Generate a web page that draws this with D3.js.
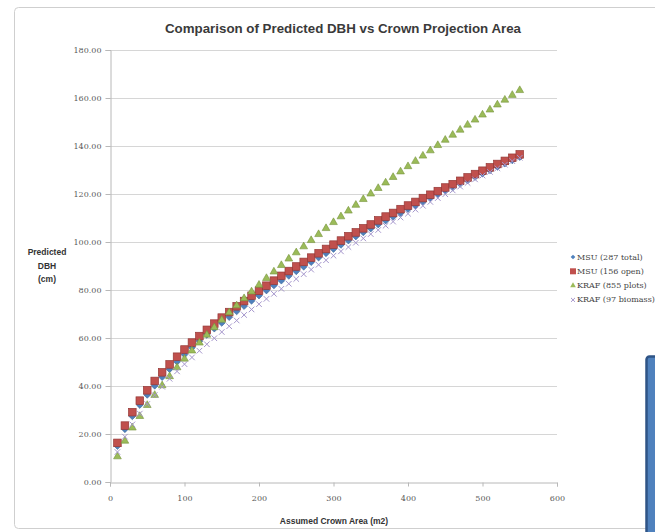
<!DOCTYPE html>
<html>
<head>
<meta charset="utf-8">
<script src="https://cdn.jsdelivr.net/npm/d3@7"></script>
<style>
  html, body { margin: 0; padding: 0; background: #fff; }
  svg { display: block; }
</style>
</head>
<body>
<svg id="chart" width="655" height="532"></svg>
<script>
// crown area (m2), one point every 10 m2
const crownArea = d3.range(10, 551, 10);

const msuTotal = [15.0, 22.0, 27.4, 32.1, 36.3, 40.1, 43.7, 47.0, 50.1, 53.1, 56.0, 58.7, 61.3, 63.9, 66.3, 68.7, 71.1, 73.3, 75.5, 77.7,
  79.8, 81.9, 83.9, 85.9, 87.8, 89.7, 91.6, 93.5, 95.3, 97.1, 98.8, 100.6, 102.3, 104.0, 105.6, 107.3, 108.9, 110.5, 112.1, 113.7,
  115.2, 116.8, 118.3, 119.8, 121.3, 122.7, 124.2, 125.6, 127.1, 128.5, 129.9, 131.3, 132.7, 134.0, 135.4];

const msuOpen = [16.3, 23.5, 29.1, 33.9, 38.2, 42.1, 45.7, 49.0, 52.2, 55.2, 58.1, 60.8, 63.4, 66.0, 68.5, 70.8, 73.2, 75.4, 77.6, 79.7,
  81.8, 83.9, 85.9, 87.9, 89.8, 91.7, 93.5, 95.3, 97.1, 98.9, 100.6, 102.4, 104.0, 105.7, 107.3, 109.0, 110.6, 112.1, 113.7, 115.2,
  116.7, 118.3, 119.7, 121.2, 122.7, 124.1, 125.5, 126.9, 128.3, 129.7, 131.1, 132.5, 133.8, 135.1, 136.5];

const krafPlots = [10.8, 17.3, 22.8, 27.6, 32.2, 36.4, 40.4, 44.2, 47.9, 51.5, 54.9, 58.2, 61.5, 64.6, 67.7, 70.8, 73.7, 76.7, 79.5, 82.3,
  85.1, 87.8, 90.5, 93.2, 95.8, 98.3, 100.9, 103.4, 105.9, 108.4, 110.8, 113.2, 115.6, 118.0, 120.3, 122.6, 124.9, 127.2, 129.5, 131.7,
  133.9, 136.1, 138.3, 140.5, 142.7, 144.8, 146.9, 149.0, 151.1, 153.2, 155.3, 157.4, 159.4, 161.4, 163.4];

const krafBiomass = [12.5, 18.9, 24.0, 28.5, 32.5, 36.2, 39.7, 43.0, 46.1, 49.1, 51.9, 54.7, 57.4, 59.9, 62.5, 64.9, 67.3, 69.6, 71.9, 74.1,
  76.3, 78.4, 80.5, 82.6, 84.6, 86.6, 88.5, 90.5, 92.4, 94.3, 96.1, 97.9, 99.7, 101.5, 103.3, 105.0, 106.8, 108.5, 110.2, 111.8,
  113.5, 115.1, 116.7, 118.3, 119.9, 121.5, 123.1, 124.6, 126.1, 127.7, 129.2, 130.7, 132.2, 133.7, 135.1];

const seriesNames = ["MSU (287 total)", "MSU (156 open)", "KRAF (855 plots)", "KRAF (97 biomass)"];
const xTicks = [0, 100, 200, 300, 400, 500, 600];
const yTicks = [0, 20, 40, 60, 80, 100, 120, 140, 160, 180];

const svg = d3.select("#chart");

// chart area frame
svg.append("rect")
  .attr("x", 14.5).attr("y", 7.5)
  .attr("width", 700).attr("height", 521)
  .attr("rx", 4)
  .attr("fill", "#fff")
  .attr("stroke", "#cfcfcf");

const x = d3.scaleLinear().domain([0, 600]).range([110, 557]);
const y = d3.scaleLinear().domain([0, 180]).range([482, 50]);

// gridlines
svg.append("g")
  .selectAll("line")
  .data(yTicks.slice(1))
  .join("line")
  .attr("x1", x(0)).attr("x2", x(600))
  .attr("y1", d => Math.round(y(d)) + 0.5).attr("y2", d => Math.round(y(d)) + 0.5)
  .attr("stroke", "#d6d6d6");

// axes
const yAxis = svg.append("g")
  .attr("transform", `translate(${x(0) + 0.5},0)`)
  .call(d3.axisLeft(y).tickValues(yTicks).tickFormat(d3.format(".2f")).tickSize(5).tickPadding(4));
const xAxis = svg.append("g")
  .attr("transform", `translate(0,${y(0) + 0.5})`)
  .call(d3.axisBottom(x).tickValues(xTicks).tickSize(4).tickPadding(9));

[xAxis, yAxis].forEach(a => {
  a.select(".domain").attr("stroke", "#b8b8b8");
  a.selectAll(".tick line").attr("stroke", "#b8b8b8");
  a.selectAll("text")
    .attr("fill", "#5a5a5a")
    .style("font-family", "'DejaVu Serif', serif")
    .style("font-size", "8px");
});

// markers
const marks = svg.append("g");

marks.selectAll(".msu-total")
  .data(crownArea.map((a, i) => [a, msuTotal[i]]))
  .join("path")
  .attr("class", "msu-total")
  .attr("d", d3.symbol(d3.symbolDiamond2, 30))
  .attr("transform", d => `translate(${x(d[0])},${y(d[1])})`)
  .attr("fill", "#4f81bd")
  .attr("stroke", "#3b6495")
  .attr("stroke-width", 0.6);

marks.selectAll(".msu-open")
  .data(crownArea.map((a, i) => [a, msuOpen[i]]))
  .join("rect")
  .attr("class", "msu-open")
  .attr("x", d => x(d[0]) - 3.8)
  .attr("y", d => y(d[1]) - 3.8)
  .attr("width", 7.6).attr("height", 7.6)
  .attr("fill", "#c0504d")
  .attr("stroke", "#943836")
  .attr("stroke-width", 0.7);

marks.selectAll(".kraf-plots")
  .data(crownArea.map((a, i) => [a, krafPlots[i]]))
  .join("path")
  .attr("class", "kraf-plots")
  .attr("d", d3.symbol(d3.symbolTriangle, 26))
  .attr("transform", d => `translate(${x(d[0])},${y(d[1]) + 0.5})`)
  .attr("fill", "#9bbb59")
  .attr("stroke", "#77933c")
  .attr("stroke-width", 0.6);

marks.selectAll(".kraf-biomass")
  .data(crownArea.map((a, i) => [a, krafBiomass[i]]))
  .join("path")
  .attr("class", "kraf-biomass")
  .attr("d", d3.symbol(d3.symbolX, 22))
  .attr("transform", d => `translate(${x(d[0])},${y(d[1])})`)
  .attr("fill", "none")
  .attr("stroke", "#a596cc")
  .attr("stroke-width", 1);

// title
svg.append("text")
  .attr("x", 343).attr("y", 33)
  .attr("text-anchor", "middle")
  .attr("textLength", 356).attr("lengthAdjust", "spacingAndGlyphs")
  .style("font-family", "'Liberation Sans', Arial, sans-serif")
  .style("font-weight", "bold")
  .style("font-size", "13.5px")
  .attr("fill", "#3a3a3a")
  .text("Comparison of Predicted DBH vs Crown Projection Area");

// axis titles
const yTitle = svg.append("text")
  .attr("text-anchor", "middle")
  .style("font-family", "'Liberation Sans', Arial, sans-serif")
  .style("font-weight", "bold")
  .style("font-size", "8.5px")
  .attr("fill", "#333");
["Predicted", "DBH", "(cm)"].forEach((t, i) => {
  yTitle.append("tspan").attr("x", 47).attr("y", 255 + i * 13.5).text(t);
});

svg.append("text")
  .attr("x", 334).attr("y", 524)
  .attr("text-anchor", "middle")
  .style("font-family", "'Liberation Sans', Arial, sans-serif")
  .style("font-weight", "bold")
  .style("font-size", "8.5px")
  .attr("fill", "#333")
  .text("Assumed Crown Area (m2)");

// legend
const legend = svg.append("g").attr("transform", "translate(573,257)");
const item = legend.selectAll("g")
  .data(seriesNames)
  .join("g")
  .attr("transform", (d, i) => `translate(0,${i * 14.3})`);

item.each(function (d, i) {
  const g = d3.select(this);
  if (i === 0) g.append("path").attr("d", d3.symbol(d3.symbolDiamond2, 14)).attr("fill", "#4f81bd");
  if (i === 1) g.append("rect").attr("x", -3).attr("y", -3).attr("width", 6).attr("height", 6).attr("fill", "#c0504d");
  if (i === 2) g.append("path").attr("d", d3.symbol(d3.symbolTriangle, 14)).attr("fill", "#9bbb59");
  if (i === 3) g.append("path").attr("d", d3.symbol(d3.symbolX, 12)).attr("fill", "none").attr("stroke", "#a596cc");
});

item.append("text")
  .attr("x", 4).attr("y", 2.5)
  .style("font-family", "'DejaVu Serif', serif")
  .style("font-size", "8px")
  .attr("fill", "#444")
  .text(d => d);

// blue shape peeking in at the lower right edge
svg.append("rect")
  .attr("x", 646.5).attr("y", 356.5)
  .attr("width", 30).attr("height", 200)
  .attr("rx", 3)
  .attr("fill", "#4f81bd")
  .attr("stroke", "#2f5486")
  .attr("stroke-width", 2.5);
</script>
</body>
</html>
